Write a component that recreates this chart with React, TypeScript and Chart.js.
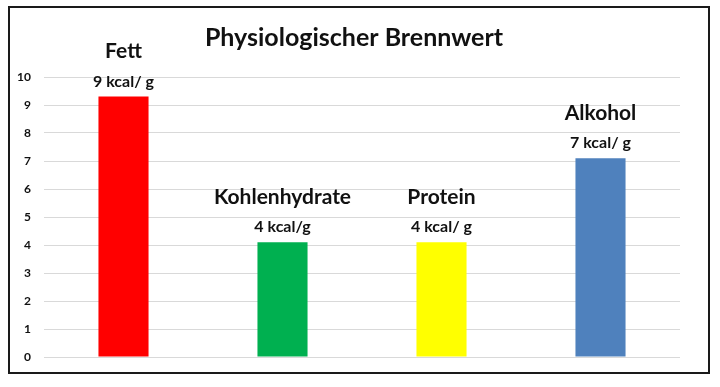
import React, { useEffect, useRef } from "react";
import { Chart, registerables } from "chart.js";

Chart.register(...registerables);

const categories = ["Fett", "Kohlenhydrate", "Protein", "Alkohol"];
const values = [9.3, 4.1, 4.1, 7.1];
const valueLabels = ["9 kcal/ g", "4 kcal/g", "4 kcal/ g", "7 kcal/ g"];
const barColors = ["#ff0000", "#00b050", "#ffff00", "#4f81bd"];
const yTicks = [0, 1, 2, 3, 4, 5, 6, 7, 8, 9, 10];
const titleText = "Physiologischer Brennwert";

const FONT = "Lato, 'Open Sans', sans-serif";

const labelPlugin = {
  id: "barLabels",
  afterDatasetsDraw(chart: any) {
    const ctx = chart.ctx;
    const meta = chart.getDatasetMeta(0);
    ctx.save();
    ctx.fillStyle = "#111";
    ctx.textAlign = "center";
    ctx.textBaseline = "middle";
    meta.data.forEach((bar: any, i: number) => {
      ctx.font = `bold 21px ${FONT}`;
      ctx.fillText(categories[i], bar.x, bar.y - 45);
      ctx.font = `bold 16px ${FONT}`;
      ctx.fillText(valueLabels[i], bar.x, bar.y - 15);
    });
    ctx.restore();
  },
};

export default function App() {
  const ref = useRef<HTMLCanvasElement | null>(null);
  useEffect(() => {
    document.body.style.margin = "0";
    const chart = new Chart(ref.current as HTMLCanvasElement, {
      type: "bar",
      data: {
        labels: categories,
        datasets: [
          {
            data: values,
            backgroundColor: barColors,
            borderWidth: 0,
            barPercentage: 0.315,
            categoryPercentage: 1,
          },
        ],
      },
      options: {
        animation: false,
        responsive: false,
        maintainAspectRatio: false,
        layout: { padding: { top: 0, right: 10, bottom: 15, left: 0 } },
        plugins: {
          legend: { display: false },
          tooltip: { enabled: false },
          title: {
            display: true,
            text: titleText,
            color: "#111",
            font: { family: FONT, size: 25, weight: "bold", lineHeight: 1.2 },
            padding: { top: 15, bottom: 24 },
          },
        },
        scales: {
          x: {
            display: false,
          },
          y: {
            min: 0,
            max: 10,
            afterBuildTicks: (scale: any) => {
              scale.ticks = yTicks.map((v) => ({ value: v }));
            },
            afterFit: (scale: any) => {
              scale.width = 34;
            },
            border: { display: false },
            grid: {
              color: "#d9d9d9",
              lineWidth: 1,
              drawTicks: true,
              tickLength: 10,
              tickColor: "rgba(0,0,0,0)",
            },
            ticks: {
              color: "#111",
              padding: 3,
              font: { family: FONT, size: 12, weight: "bold" },
            },
          },
          yRightSpace: {
            type: "linear",
            position: "right",
            display: true,
            afterFit: (scale: any) => {
              scale.width = 18;
            },
            border: { display: false },
            grid: { display: false, drawTicks: false },
            ticks: { display: false },
          },
        },
      },
      plugins: [labelPlugin],
    });
    return () => chart.destroy();
  }, []);

  return (
    <div style={{ position: "relative", width: 720, height: 387, background: "#fff" }}>
      <div
        style={{
          position: "absolute",
          left: 8,
          top: 6,
          width: 702,
          height: 368,
          border: "2px solid #1a1a1a",
          boxSizing: "border-box",
        }}
      >
        <canvas ref={ref} width={698} height={364} style={{ display: "block" }} />
      </div>
    </div>
  );
}
